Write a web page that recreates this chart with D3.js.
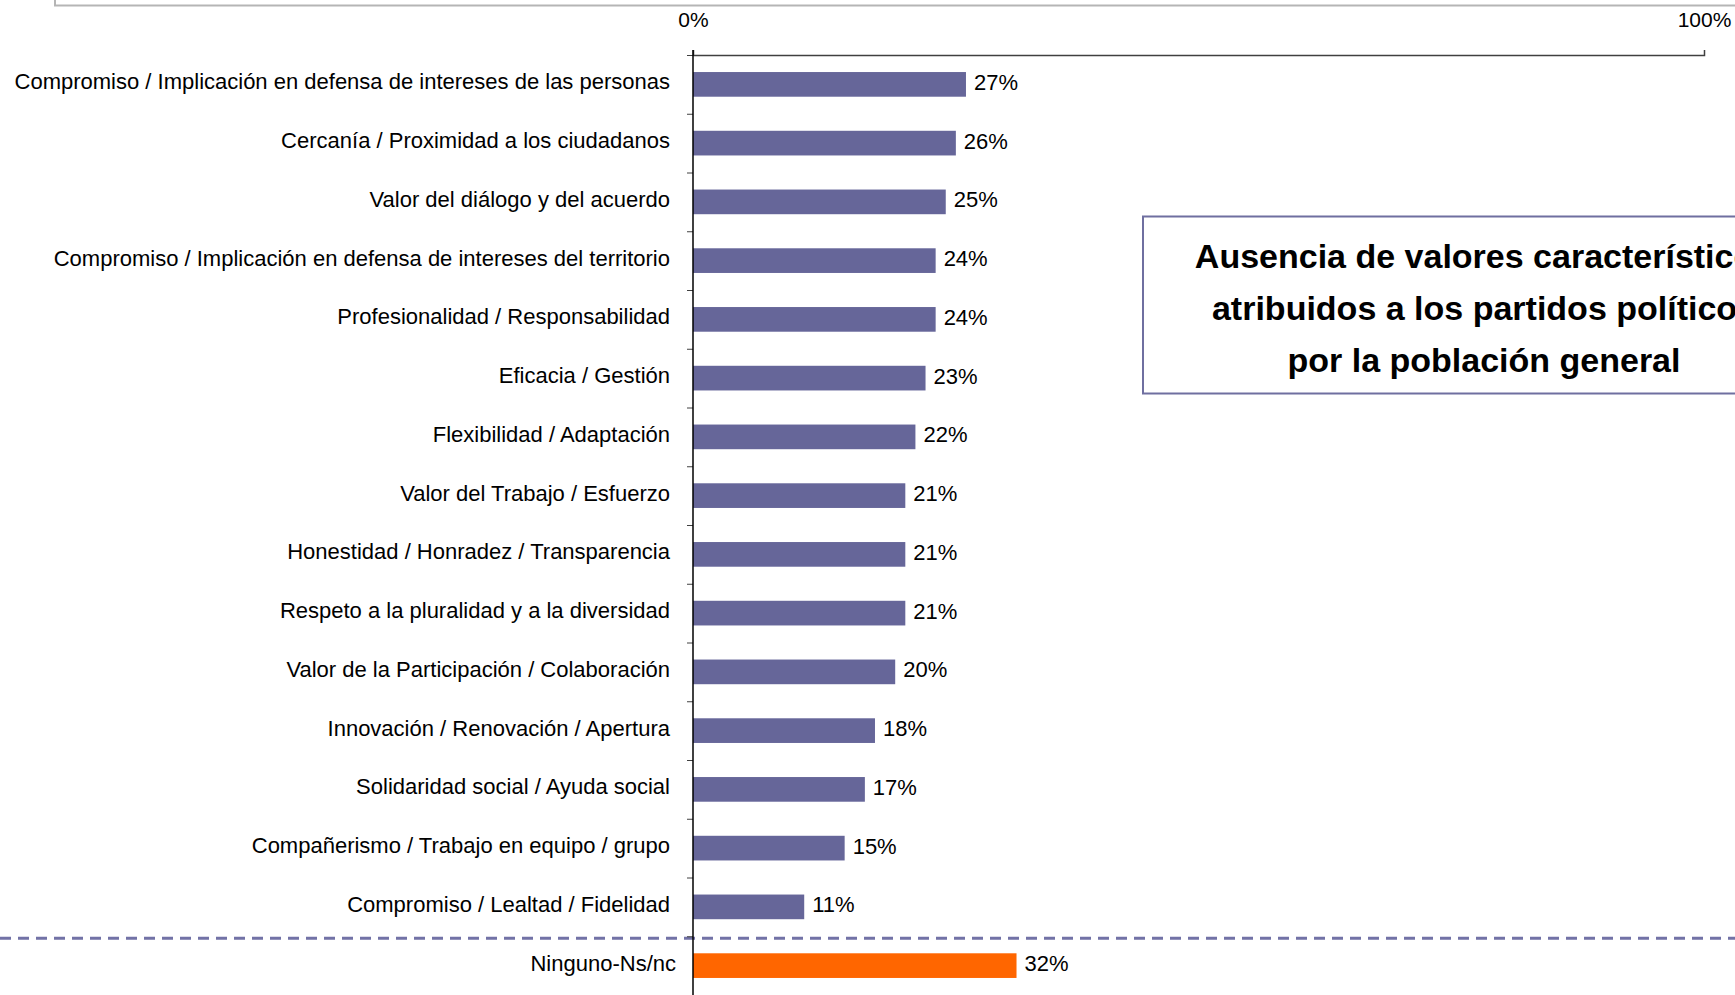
<!DOCTYPE html>
<html>
<head>
<meta charset="utf-8">
<script src="https://cdn.jsdelivr.net/npm/d3@7"></script>
<style>
  html, body { margin: 0; padding: 0; background: #fff; }
  svg { display: block; font-family: "Liberation Sans", Arial, sans-serif; }
</style>
</head>
<body>
<div class="svg__chart"></div>
<script>
/* eslint-disable */

// ---- data ----
var categories = [
  "Compromiso / Implicación en defensa de intereses de las personas",
  "Cercanía / Proximidad a los ciudadanos",
  "Valor del diálogo y del acuerdo",
  "Compromiso / Implicación en defensa de intereses del territorio",
  "Profesionalidad / Responsabilidad",
  "Eficacia / Gestión",
  "Flexibilidad / Adaptación",
  "Valor del Trabajo / Esfuerzo",
  "Honestidad / Honradez / Transparencia",
  "Respeto a la pluralidad y a la diversidad",
  "Valor de la Participación / Colaboración",
  "Innovación / Renovación / Apertura",
  "Solidaridad social / Ayuda social",
  "Compañerismo / Trabajo en equipo / grupo",
  "Compromiso / Lealtad / Fidelidad",
  "Ninguno-Ns/nc"
];
var values = [27, 26, 25, 24, 24, 23, 22, 21, 21, 21, 20, 18, 17, 15, 11, 32];
var tickValues = [0, 100];
var titleLines = [
  "Ausencia de valores característicos",
  "atribuidos a los partidos políticos",
  "por la población general"
];

var width = 1735,
height = 995;

var svg = d3.select("div.svg__chart").append("svg")
  .attr("width", width)
  .attr("height", height);

// gray frame edge at top
svg.append("rect")
  .attr("x", 55)
  .attr("y", -20)
  .attr("width", 1800)
  .attr("height", 25.5)
  .attr("fill", "none")
  .attr("stroke", "#b5b5b5")
  .attr("stroke-width", 2);

var xScale = d3.scaleLinear().domain([0, 100]).range([693, 1704]);
var yScale = d3.scaleBand().domain(categories).range([55, 995])
  .paddingInner(0.58).paddingOuter(0.29);
// boundaries between rows (for the tick marks)
var rowScale = d3.scaleLinear().domain([0, categories.length]).range([55, 995]);

// bars
svg.append("g").selectAll("rect")
  .data(values)
  .enter()
  .append("rect")
  .attr("x", xScale(0))
  .attr("y", function(d, i) { return yScale(categories[i]); })
  .attr("width", function(d) { return xScale(d) - xScale(0); })
  .attr("height", yScale.bandwidth())
  .attr("fill", function(d, i) { return i == categories.length - 1 ? "#FF6600" : "#666699"; });

// value labels
svg.append("g").selectAll("text")
  .data(values)
  .enter()
  .append("text")
  .attr("x", function(d) { return xScale(d) + 8; })
  .attr("y", function(d, i) { return yScale(categories[i]) + yScale.bandwidth() / 2 + 5.5; })
  .style("font-size", "22px")
  .attr("fill", "#000")
  .text(function(d) { return d + "%"; });

// category labels
svg.append("g").selectAll("text")
  .data(categories)
  .enter()
  .append("text")
  .attr("x", function(d, i) { return i == categories.length - 1 ? 676 : 670; })
  .attr("y", function(d) { return yScale(d) + yScale.bandwidth() / 2 + 5; })
  .attr("text-anchor", "end")
  .style("font-size", "22px")
  .attr("fill", "#000")
  .text(function(d) { return d; });

// separator between the values and "Ninguno"
svg.append("line")
  .attr("x1", 0)
  .attr("x2", width)
  .attr("y1", rowScale(categories.length - 1) + 2)
  .attr("y2", rowScale(categories.length - 1) + 2)
  .attr("stroke", "#7272a6")
  .attr("stroke-width", 3)
  .attr("stroke-dasharray", "11,7");

// y axis ticks at row boundaries
var yAxis = d3.axisLeft(rowScale)
  .tickValues(d3.range(0, categories.length))
  .tickFormat("")
  .tickSize(6)
  .tickSizeOuter(0);
var yG = svg.append("g")
  .attr("transform", "translate(" + xScale(0) + ",0)")
  .call(yAxis);
yG.select(".domain").remove();
yG.selectAll(".tick line").attr("stroke", "#404040");

// top x axis
var xAxis = d3.axisTop(xScale)
  .tickValues(tickValues)
  .tickSize(5)
  .tickPadding(23)
  .tickFormat(function(d) { return d + "%"; });
var xG = svg.append("g")
  .attr("transform", "translate(0,55)")
  .call(xAxis);
xG.select(".domain").attr("stroke", "#404040").attr("stroke-width", 1.5);
xG.selectAll(".tick line").attr("stroke", "#404040");
xG.selectAll(".tick text")
  .style("font-family", "Liberation Sans, Arial, sans-serif")
  .style("font-size", "21px")
  .attr("fill", "#000");

// vertical axis line
svg.append("line")
  .attr("x1", xScale(0))
  .attr("x2", xScale(0))
  .attr("y1", 50)
  .attr("y2", height)
  .attr("stroke", "#000")
  .attr("stroke-width", 1.5);

// title box
svg.append("rect")
  .attr("x", 1143)
  .attr("y", 216.5)
  .attr("width", 700)
  .attr("height", 177)
  .attr("fill", "#fff")
  .attr("stroke", "#6f6fa0")
  .attr("stroke-width", 2);

svg.append("g").selectAll("text")
  .data(titleLines)
  .enter()
  .append("text")
  .attr("x", 1484)
  .attr("y", function(d, i) { return 268 + i * 52; })
  .attr("text-anchor", "middle")
  .style("font-size", "34px")
  .style("font-weight", "bold")
  .attr("fill", "#000")
  .text(function(d) { return d; });
</script>
</body>
</html>
